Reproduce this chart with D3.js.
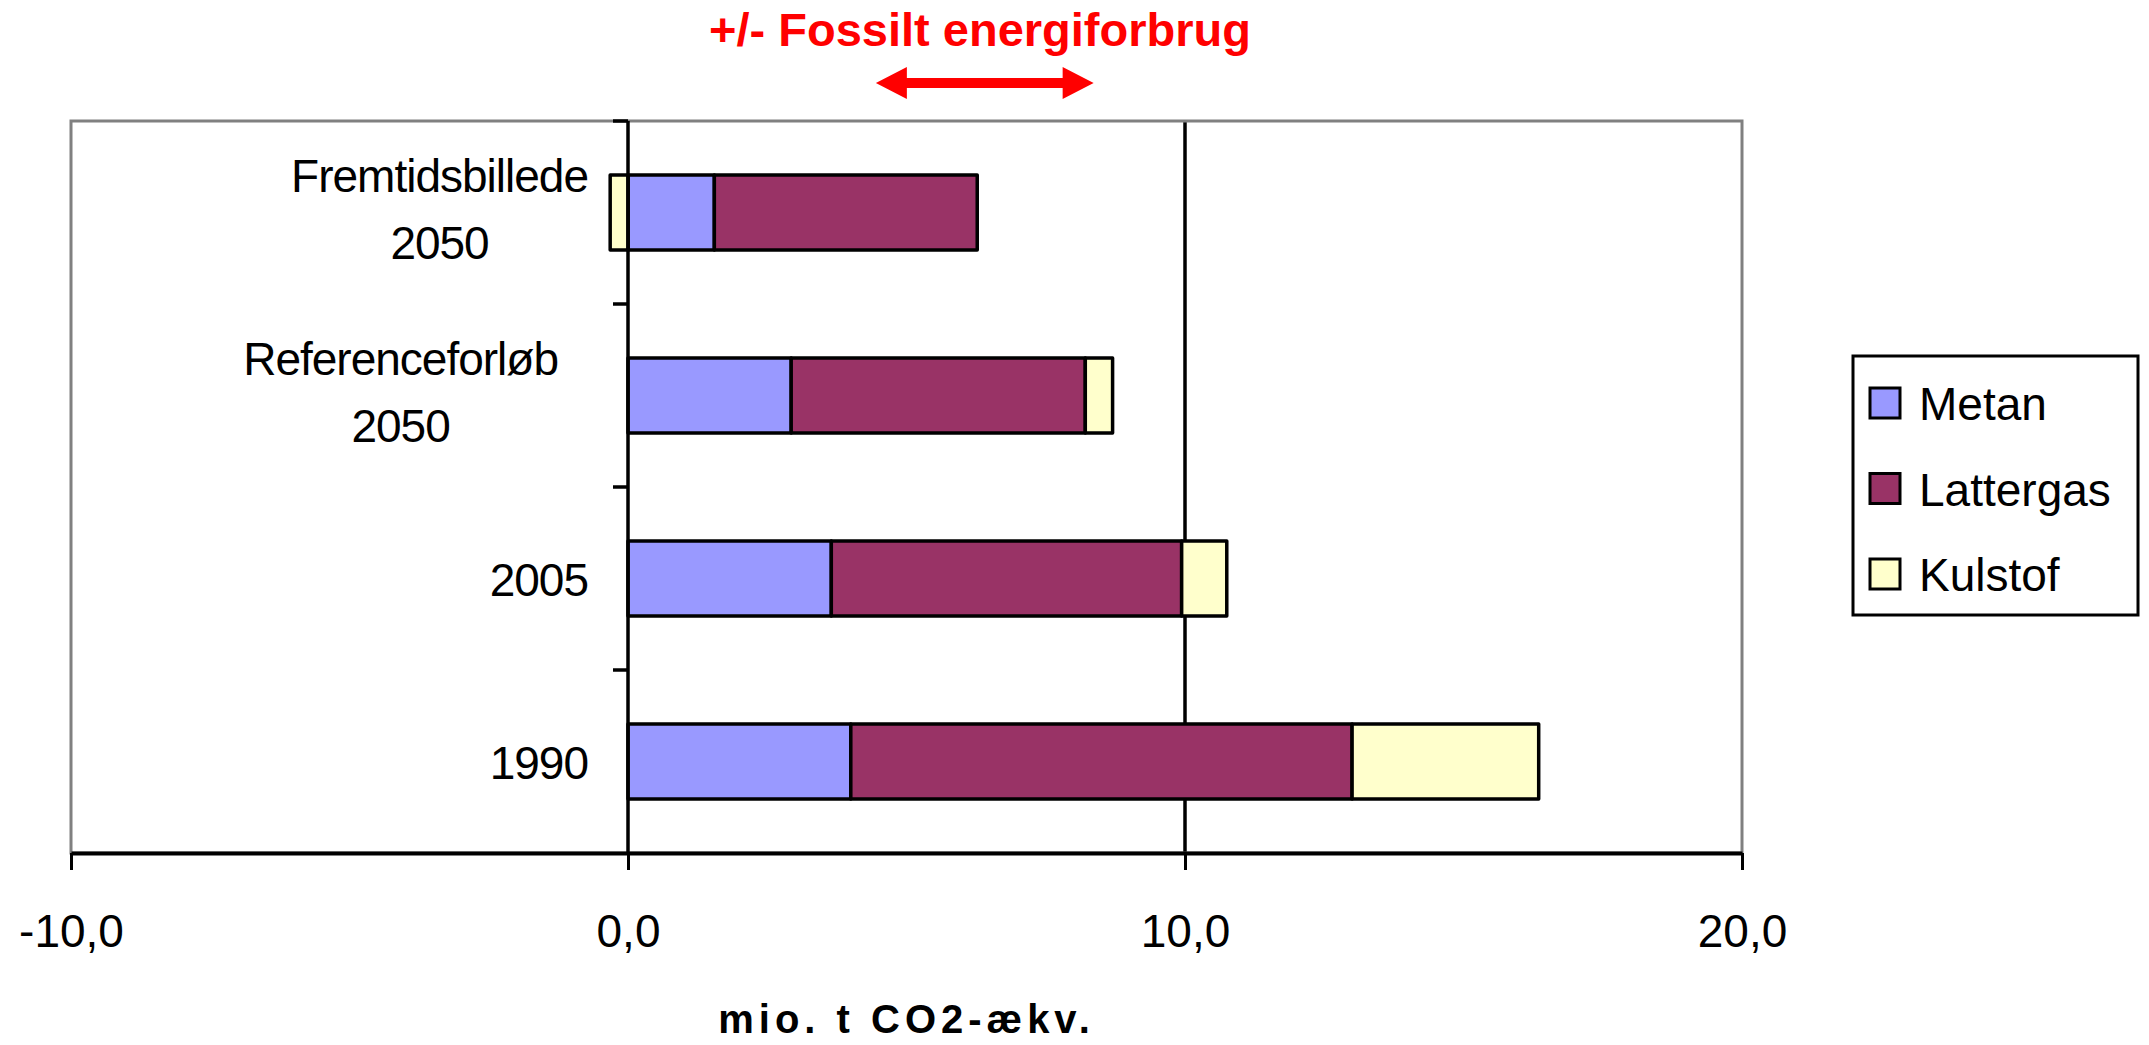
<!DOCTYPE html>
<html>
<head>
<meta charset="utf-8">
<script src="https://cdn.jsdelivr.net/npm/d3@7"></script>
<style>
  html, body { margin: 0; padding: 0; background: #fff; }
  svg { display: block; font-family: "Liberation Sans", Arial, sans-serif; }
</style>
</head>
<body>
<svg id="chart" width="2149" height="1045"></svg>
<script>
// Scenarios, top to bottom, with their wrapped label lines
const categories = ["Fremtidsbillede 2050", "Referenceforløb 2050", "2005", "1990"];
const categoryLines = [["Fremtidsbillede", "2050"], ["Referenceforløb", "2050"], ["2005"], ["1990"]];

// Emissions by gas, mio. t CO2-ækv.
const seriesNames = ["Metan", "Lattergas", "Kulstof"];
const metan     = [1.55, 2.93, 3.65, 4.00];
const lattergas = [4.72, 5.28, 6.29, 9.00];
const kulstof   = [-0.32, 0.49, 0.81, 3.35];
const seriesColors = ["#9999FF", "#993366", "#FFFFCC"];

// Value axis ticks
const xTicks = [-10, 0, 10, 20];
const xGrid = [10];

// Annotation: range of fossil energy use
const titleText = "+/- Fossilt energiforbrug";
const arrowRange = [4.45, 8.36];
const axisTitle = "mio. t CO2-ækv.";

const rows = categories.map((c, i) => ({
  category: c, Metan: metan[i], Lattergas: lattergas[i], Kulstof: kulstof[i]
}));

const svg = d3.select("#chart");
const plot = { left: 71, right: 1742, top: 121, bottom: 853 };

const x = d3.scaleLinear().domain([-10, 20]).range([plot.left, plot.right]);
const y = d3.scaleBand().domain(categories).range([plot.top, plot.bottom])
  .paddingInner(0.59).paddingOuter(0.295);
const color = d3.scaleOrdinal().domain(seriesNames).range(seriesColors);

const da = d3.formatLocale({ decimal: ",", thousands: ".", grouping: [3], currency: ["", " kr"], minus: "-" });
const fmt = da.format(".1f");

// Grid lines
svg.append("g").selectAll("line").data(xGrid).join("line")
  .attr("x1", d => x(d)).attr("x2", d => x(d))
  .attr("y1", plot.top).attr("y2", plot.bottom)
  .attr("stroke", "#000").attr("stroke-width", 3.5);

// Plot frame (grey)
svg.append("rect")
  .attr("x", plot.left).attr("y", plot.top)
  .attr("width", plot.right - plot.left).attr("height", plot.bottom - plot.top)
  .attr("fill", "none").attr("stroke", "#808080").attr("stroke-width", 3);

// Category axis on the zero line, ticks between categories
const step = y.step();
const bounds = d3.range(categories.length + 1).map(i => plot.top + i * step);
svg.append("g").selectAll("line").data(bounds.slice(0, -1)).join("line")
  .attr("x1", x(0) - 15).attr("x2", x(0))
  .attr("y1", d => d).attr("y2", d => d)
  .attr("stroke", "#000").attr("stroke-width", 3.5);

// Stacked bars (negative values stack left of zero)
const stack = d3.stack().keys(seriesNames).offset(d3.stackOffsetDiverging);
const layers = stack(rows);
svg.append("g").selectAll("g").data(layers).join("g")
  .attr("fill", d => color(d.key))
  .selectAll("rect").data(d => d).join("rect")
  .attr("x", d => x(Math.min(d[0], d[1])))
  .attr("width", d => Math.abs(x(d[1]) - x(d[0])))
  .attr("y", d => y(d.data.category))
  .attr("height", y.bandwidth())
  .attr("stroke", "#000").attr("stroke-width", 3.5)
  .attr("stroke-linejoin", "round");

// Zero line above the bars
svg.append("line")
  .attr("x1", x(0)).attr("x2", x(0))
  .attr("y1", plot.top).attr("y2", plot.bottom)
  .attr("stroke", "#000").attr("stroke-width", 3.5);

// Value axis
const xAxis = svg.append("g")
  .attr("transform", `translate(0,${plot.bottom})`)
  .call(d3.axisBottom(x).tickValues(xTicks).tickFormat(fmt).tickSize(17).tickSizeOuter(0).tickPadding(44));
xAxis.select(".domain").attr("stroke", "#000").attr("stroke-width", 4);
xAxis.selectAll(".tick line").attr("stroke", "#000").attr("stroke-width", 3);
xAxis.selectAll(".tick text")
  .attr("font-family", "'Liberation Sans', Arial, sans-serif")
  .attr("font-size", 46).attr("fill", "#000");

// Category labels: lines centred within a block set left of the axis
const labelGap = [40, 70, 40, 40];
const labelG = svg.append("g").attr("font-size", 46).attr("fill", "#000").attr("letter-spacing", -1);
categoryLines.forEach((lines, i) => {
  const cy = y(categories[i]) + y.bandwidth() / 2;
  const offsets = lines.length === 1 ? [17] : [-21, 46];
  const t = labelG.append("text").attr("text-anchor", "middle");
  const spans = lines.map((ln, j) => t.append("tspan").attr("y", cy + offsets[j]).text(ln));
  const w = d3.max(spans, s => s.node().getComputedTextLength());
  spans.forEach(s => s.attr("x", x(0) - labelGap[i] - w / 2));
});

// Axis title
svg.append("text")
  .attr("x", (plot.left + plot.right) / 2).attr("y", 1033)
  .attr("text-anchor", "middle")
  .attr("font-size", 40).attr("font-weight", "bold")
  .attr("letter-spacing", 5)
  .text(axisTitle);

// Annotation title and double arrow
svg.append("text")
  .attr("x", 980).attr("y", 46)
  .attr("text-anchor", "middle")
  .attr("font-size", 47).attr("font-weight", "bold")
  .attr("fill", "#FF0000")
  .text(titleText);

const ay = 83, shaft = 5, head = 16, headLen = 31;
const ax0 = x(arrowRange[0]), ax1 = x(arrowRange[1]);
svg.append("path")
  .attr("fill", "#FF0000")
  .attr("d", d3.line()([
    [ax0, ay], [ax0 + headLen, ay - head], [ax0 + headLen, ay - shaft],
    [ax1 - headLen, ay - shaft], [ax1 - headLen, ay - head], [ax1, ay],
    [ax1 - headLen, ay + head], [ax1 - headLen, ay + shaft],
    [ax0 + headLen, ay + shaft], [ax0 + headLen, ay + head]
  ]) + "Z");

// Legend
const legend = svg.append("g");
legend.append("rect")
  .attr("x", 1853).attr("y", 356).attr("width", 285).attr("height", 259)
  .attr("fill", "#fff").attr("stroke", "#000").attr("stroke-width", 3);
const item = legend.selectAll("g.item").data(seriesNames).join("g")
  .attr("class", "item")
  .attr("transform", (d, i) => `translate(1870,${388 + i * 85.5})`);
item.append("rect")
  .attr("width", 30).attr("height", 30)
  .attr("fill", d => color(d)).attr("stroke", "#000").attr("stroke-width", 3);
item.append("text")
  .attr("x", 49).attr("y", 32)
  .attr("font-size", 46).attr("fill", "#000")
  .text(d => d);
</script>
</body>
</html>
